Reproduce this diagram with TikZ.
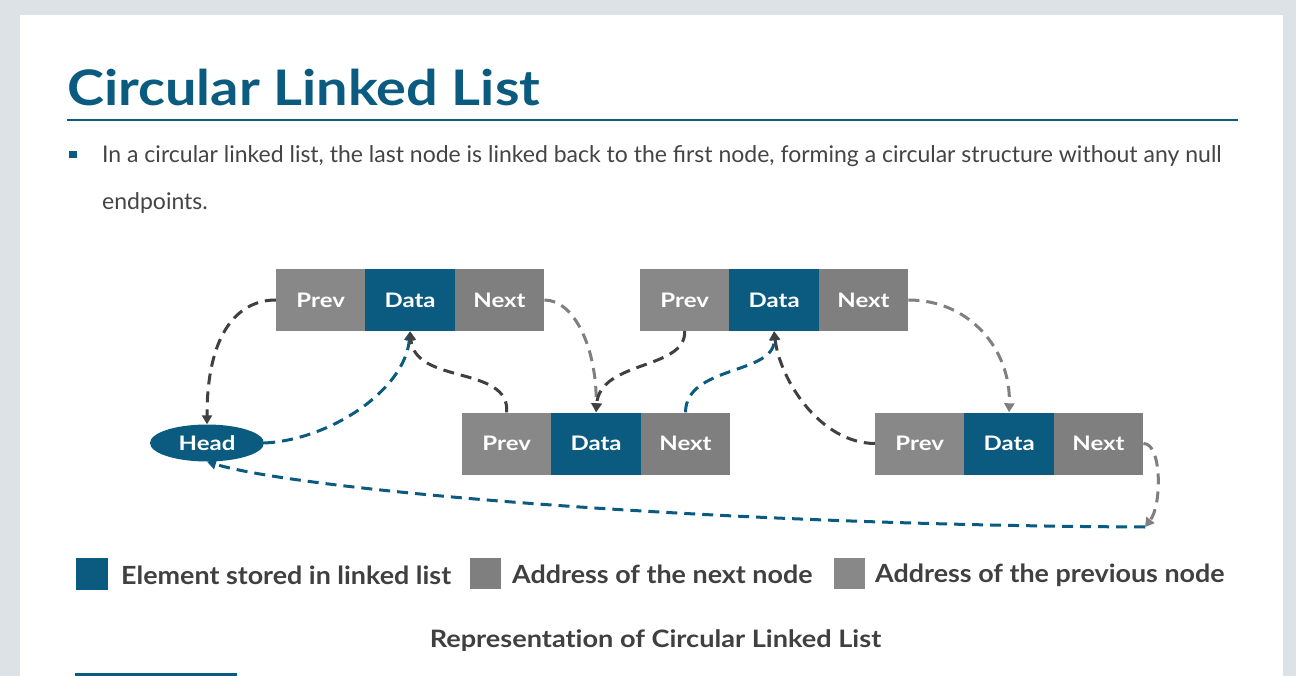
\documentclass[tikz,border=0pt]{standalone}
\usepackage{fontspec}
\setmainfont{Lato}
\newfontfamily\titlef[FakeStretch=1.14]{Lato}
\newfontfamily\cellf[FakeStretch=1.2]{Lato}
\newfontfamily\legf[FakeStretch=1.075]{Lato}
\newfontfamily\capf[FakeStretch=1.13,Ligatures=NoCommon]{Lato}
\usetikzlibrary{arrows.meta,shapes.geometric}
\definecolor{bgc}{HTML}{DDE2E6}
\definecolor{blu}{HTML}{0B5A80}
\definecolor{gprev}{HTML}{888888}
\definecolor{gnext}{HTML}{7F7F7F}
\definecolor{dk}{HTML}{404040}
\definecolor{txt}{HTML}{444444}
\begin{document}
\begin{tikzpicture}[x=1pt,y=-1pt,
  cell/.style={rectangle,minimum width=89.4pt,minimum height=62pt,inner sep=0pt,text=white,font=\cellf\fontsize{20}{22}\selectfont\bfseries},
  prevc/.style={cell,fill=gprev},
  datac/.style={cell,fill=blu},
  nextc/.style={cell,fill=gnext},
  lnk/.style={line width=3pt,dash pattern=on 11pt off 7pt,-{Triangle[length=9pt,width=10pt]}},
  lnkdk/.style={lnk,draw=dk},
  lnkgr/.style={lnk,draw=gnext},
  lnkbl/.style={lnk,draw=blu},
  legtxt/.style={anchor=base west,inner sep=0pt,text=dk,font=\legf\fontsize{25}{28}\selectfont\bfseries},
]
\useasboundingbox (0,0) rectangle (1296,676);
\fill[bgc] (0,0) rectangle (1296,676);
\fill[white] (20,15) rectangle (1283,676);
% title
\node[anchor=base west,inner sep=0pt,text=blu,font=\titlef\fontsize{49}{52}\selectfont\bfseries] (title) at (67,106) {Circular Linked List};
\draw[blu,line width=2.5pt] (67,120) -- (1238,120);
% bullet
\fill[blu] (69,151) rectangle (77,158.5);
\node[anchor=base west,inner sep=0pt,text=txt,font=\fontsize{23}{26}\selectfont] (l1) at (102,163) {In a circular linked list, the last node is linked back to the first node, forming a circular structure without any null};
\node[anchor=base west,inner sep=0pt,text=txt,font=\fontsize{23}{26}\selectfont] (l2) at (102,210) {endpoints.};
% list nodes
\node[prevc] (n1p) at (320.7,300) {Prev};
\node[datac] (n1d) at (410.1,300) {Data};
\node[nextc] (n1n) at (499.5,300) {Next};
\node[prevc] (n2p) at (506.7,443.5) {Prev};
\node[datac] (n2d) at (596.1,443.5) {Data};
\node[nextc] (n2n) at (685.5,443.5) {Next};
\node[prevc] (n3p) at (684.7,300) {Prev};
\node[datac] (n3d) at (774.1,300) {Data};
\node[nextc] (n3n) at (863.5,300) {Next};
\node[prevc] (n4p) at (919.7,443.5) {Prev};
\node[datac] (n4d) at (1009.1,443.5) {Data};
\node[nextc] (n4n) at (1098.5,443.5) {Next};
\node[ellipse,fill=blu,minimum width=114pt,minimum height=37pt,inner sep=0pt,text=white,font=\cellf\fontsize{20}{22}\selectfont\bfseries] (head) at (207,443) {Head};
\coordinate (c1) at (1145,527);
% connectors
\draw[lnkdk] (n1p.west) .. controls (240,300) and (207,330) .. (head.north);
\draw[lnkbl] (head.east) .. controls (330,440) and (405,390) .. (n1d.south);
\draw[lnkdk] (n2p.north) .. controls (510,365) and (415,385) .. (n1d.south);
\draw[lnkgr] (n1n.east) .. controls (575,300) and (597,350) .. (n2d.north);
\draw[lnkdk] (n3p.south) .. controls (686,370) and (600,360) .. (n2d.north);
\draw[lnkbl] (n2n.north) .. controls (686,365) and (775,375) .. (n3d.south);
\draw[lnkdk] (n4p.west) .. controls (820,443) and (780,380) .. (n3d.south);
\draw[lnkgr] (n3n.east) .. controls (970,300) and (1011,350) .. (n4d.north);
\draw[lnkgr] (n4n.east) .. controls (1162,443) and (1162,505) .. (c1);
\draw[lnkbl] (c1) .. controls (700,525) and (300,490) .. (head.south);
% legend
\fill[blu] (76,558) rectangle (108,590);
\node[legtxt] (lg1) at (121,584) {Element stored in linked list};
\fill[gnext] (470,558) rectangle (501,589);
\node[legtxt] (lg2) at (512,583) {Address of the next node};
\fill[gprev] (834,558) rectangle (865,589);
\node[legtxt] (lg3) at (875,582) {Address of the previous node};
\node[anchor=base,inner sep=0pt,text=dk,font=\capf\fontsize{24}{26}\selectfont\bfseries] (cap) at (655.5,647) {Representation of Circular Linked List};
\fill[blu] (75,673) rectangle (237,677);
\end{tikzpicture}
\end{document}
